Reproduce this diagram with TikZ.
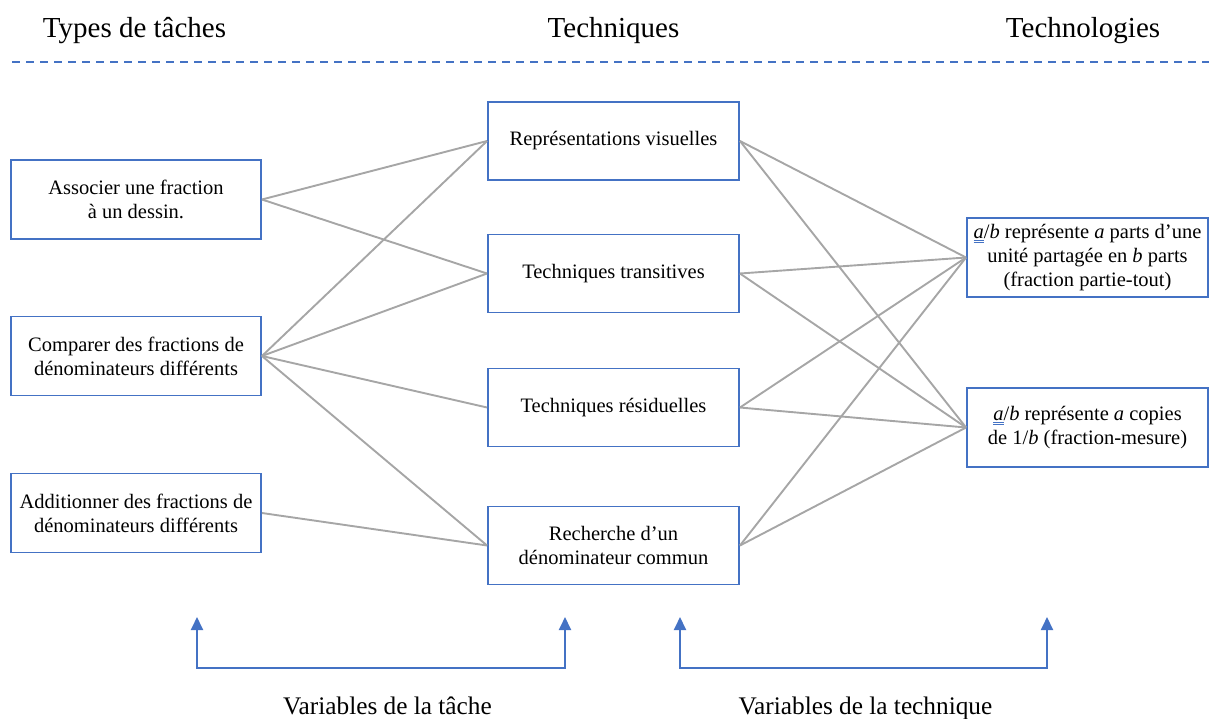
\documentclass[tikz,border=0pt]{standalone}
\usepackage{fontspec}
\setmainfont{Liberation Serif}
\usetikzlibrary{arrows.meta}
\definecolor{boxblue}{HTML}{4472C4}
\definecolor{linegray}{HTML}{A6A6A6}
\newcommand{\ula}{{\color{boxblue}\underline{\underline{{\color{black}\textit{a}}}}}}
\begin{document}
\begin{tikzpicture}[x=1pt,y=-1pt,
  boxnode/.style={draw=boxblue,line width=1.9pt,rectangle,align=center,
    font=\fontsize{20.5}{24}\selectfont,inner sep=0pt},
  leftbox/.style={boxnode,minimum width=250pt,minimum height=79pt},
  midbox/.style={boxnode,minimum width=251pt,minimum height=78pt},
  rightbox/.style={boxnode,minimum width=241pt,minimum height=79pt},
  conn/.style={draw=linegray,line width=1.9pt},
  titletext/.style={font=\fontsize{29}{34}\selectfont,anchor=base},
  vartext/.style={font=\fontsize{25.3}{30}\selectfont,anchor=base},
  bracket/.style={draw=boxblue,line width=1.9pt,{Triangle[length=13pt,width=12pt]}-{Triangle[length=13pt,width=12pt]}}
]
\useasboundingbox (0,0) rectangle (1209,718);

% titles
\node[titletext] (t1) at (134.5,37) {Types de tâches};
\node[titletext] (t2) at (613.5,37) {Techniques};
\node[titletext] (t3) at (1083,37) {Technologies};
\coordinate (dl) at (12,62);
\coordinate (dr) at (1209,62);
\draw[draw=boxblue,line width=2.2pt,dash pattern=on 8pt off 6pt] (dl) -- (dr);

% left boxes
\node[leftbox] (L1) at (136,199.5) {Associer une fraction\\à un dessin.};
\node[leftbox] (L2) at (136,356) {Comparer des fractions de\\dénominateurs différents};
\node[leftbox] (L3) at (136,513) {Additionner des fractions de\\dénominateurs différents};

% middle boxes
\node[midbox] (M1) at (613.5,141) {Représentations visuelles};
\node[midbox] (M2) at (613.5,273.5) {Techniques transitives};
\node[midbox] (M3) at (613.5,407.5) {Techniques résiduelles};
\node[midbox] (M4) at (613.5,545.5) {Recherche d’un\\dénominateur commun};

% right boxes
\node[rightbox] (R1) at (1087.5,257.5) {\ula/\textit{b} représente \textit{a} parts d’une\\unité partagée en \textit{b} parts\\(fraction partie-tout)};
\node[rightbox] (R2) at (1087.5,427.5) {\ula/\textit{b} représente \textit{a} copies\\de 1/\textit{b} (fraction-mesure)};

% connectors left -> middle
\draw[conn] (L1.east) -- (M1.west);
\draw[conn] (L1.east) -- (M2.west);
\draw[conn] (L2.east) -- (M1.west);
\draw[conn] (L2.east) -- (M2.west);
\draw[conn] (L2.east) -- (M3.west);
\draw[conn] (L2.east) -- (M4.west);
\draw[conn] (L3.east) -- (M4.west);

% connectors middle -> right
\foreach \m in {M1,M2,M3,M4}{
  \draw[conn] (\m.east) -- (R1.west);
  \draw[conn] (\m.east) -- (R2.west);
}

% brackets
\coordinate (a1) at (197,617);
\coordinate (b1l) at (197,668);
\coordinate (b1r) at (565,668);
\coordinate (a2) at (565,617);
\draw[bracket] (a1) -- (b1l) -- (b1r) -- (a2);
\coordinate (a3) at (680,617);
\coordinate (b2l) at (680,668);
\coordinate (b2r) at (1047,668);
\coordinate (a4) at (1047,617);
\draw[bracket] (a3) -- (b2l) -- (b2r) -- (a4);

\node[vartext] (v1) at (387.5,714) {Variables de la tâche};
\node[vartext] (v2) at (865.5,714) {Variables de la technique};
\end{tikzpicture}
\end{document}
